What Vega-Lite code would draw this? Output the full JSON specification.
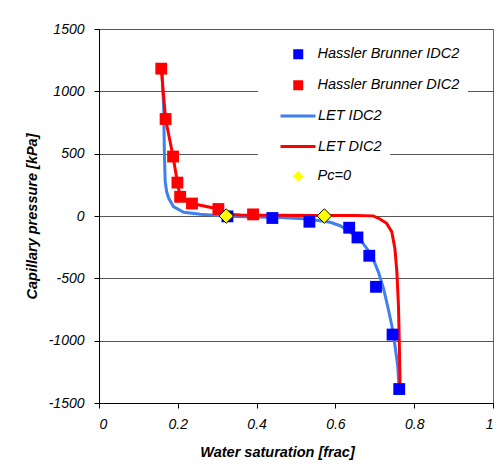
{
  "$schema": "https://vega.github.io/schema/vega-lite/v6.json",
  "width": 394,
  "height": 374,
  "autosize": "none",
  "padding": {"left": 99, "top": 29, "right": 10, "bottom": 63},
  "background": "white",
  "config": {
    "font": "Liberation Sans",
    "view": {"stroke": "#666666", "strokeWidth": 1},
    "legend": {
      "labelFont": "Liberation Sans",
      "labelFontStyle": "italic",
      "labelFontSize": 14.5,
      "labelColor": "black",
      "labelLimit": 400,
      "orient": "none",
      "padding": 8
    }
  },
  "data": {
    "values": [
      {"series": "LET IDC2", "i": 1, "sw": 0.160, "pc": 1180},
      {"series": "LET IDC2", "i": 2, "sw": 0.162, "pc": 1000},
      {"series": "LET IDC2", "i": 3, "sw": 0.164, "pc": 893},
      {"series": "LET IDC2", "i": 4, "sw": 0.166, "pc": 490},
      {"series": "LET IDC2", "i": 5, "sw": 0.168, "pc": 276},
      {"series": "LET IDC2", "i": 6, "sw": 0.172, "pc": 190},
      {"series": "LET IDC2", "i": 7, "sw": 0.177, "pc": 142},
      {"series": "LET IDC2", "i": 8, "sw": 0.189, "pc": 75},
      {"series": "LET IDC2", "i": 9, "sw": 0.215, "pc": 30},
      {"series": "LET IDC2", "i": 10, "sw": 0.257, "pc": 14},
      {"series": "LET IDC2", "i": 11, "sw": 0.299, "pc": 5},
      {"series": "LET IDC2", "i": 12, "sw": 0.323, "pc": -2},
      {"series": "LET IDC2", "i": 13, "sw": 0.400, "pc": -8},
      {"series": "LET IDC2", "i": 14, "sw": 0.460, "pc": -12},
      {"series": "LET IDC2", "i": 15, "sw": 0.530, "pc": -25},
      {"series": "LET IDC2", "i": 16, "sw": 0.587, "pc": -50},
      {"series": "LET IDC2", "i": 17, "sw": 0.612, "pc": -78},
      {"series": "LET IDC2", "i": 18, "sw": 0.637, "pc": -126},
      {"series": "LET IDC2", "i": 19, "sw": 0.667, "pc": -206},
      {"series": "LET IDC2", "i": 20, "sw": 0.692, "pc": -314},
      {"series": "LET IDC2", "i": 21, "sw": 0.709, "pc": -448},
      {"series": "LET IDC2", "i": 22, "sw": 0.722, "pc": -581},
      {"series": "LET IDC2", "i": 23, "sw": 0.734, "pc": -742},
      {"series": "LET IDC2", "i": 24, "sw": 0.743, "pc": -876},
      {"series": "LET IDC2", "i": 25, "sw": 0.751, "pc": -1037},
      {"series": "LET IDC2", "i": 26, "sw": 0.758, "pc": -1198},
      {"series": "LET IDC2", "i": 27, "sw": 0.762, "pc": -1390},

      {"series": "LET DIC2", "i": 1, "sw": 0.158, "pc": 1182},
      {"series": "LET DIC2", "i": 2, "sw": 0.169, "pc": 778},
      {"series": "LET DIC2", "i": 3, "sw": 0.188, "pc": 477},
      {"series": "LET DIC2", "i": 4, "sw": 0.199, "pc": 268},
      {"series": "LET DIC2", "i": 5, "sw": 0.206, "pc": 154},
      {"series": "LET DIC2", "i": 6, "sw": 0.236, "pc": 100},
      {"series": "LET DIC2", "i": 7, "sw": 0.303, "pc": 56},
      {"series": "LET DIC2", "i": 8, "sw": 0.323, "pc": 14},
      {"series": "LET DIC2", "i": 9, "sw": 0.360, "pc": 9},
      {"series": "LET DIC2", "i": 10, "sw": 0.450, "pc": 7},
      {"series": "LET DIC2", "i": 11, "sw": 0.550, "pc": 5},
      {"series": "LET DIC2", "i": 12, "sw": 0.650, "pc": 4},
      {"series": "LET DIC2", "i": 13, "sw": 0.696, "pc": 1},
      {"series": "LET DIC2", "i": 14, "sw": 0.713, "pc": -24},
      {"series": "LET DIC2", "i": 15, "sw": 0.730, "pc": -59},
      {"series": "LET DIC2", "i": 16, "sw": 0.743, "pc": -126},
      {"series": "LET DIC2", "i": 17, "sw": 0.751, "pc": -260},
      {"series": "LET DIC2", "i": 18, "sw": 0.756, "pc": -448},
      {"series": "LET DIC2", "i": 19, "sw": 0.760, "pc": -716},
      {"series": "LET DIC2", "i": 20, "sw": 0.762, "pc": -983},
      {"series": "LET DIC2", "i": 21, "sw": 0.764, "pc": -1359},
      {"series": "LET DIC2", "i": 22, "sw": 0.765, "pc": -1400},

      {"series": "Hassler Brunner IDC2", "i": 1, "sw": 0.326, "pc": -3},
      {"series": "Hassler Brunner IDC2", "i": 2, "sw": 0.440, "pc": -16},
      {"series": "Hassler Brunner IDC2", "i": 3, "sw": 0.534, "pc": -46},
      {"series": "Hassler Brunner IDC2", "i": 4, "sw": 0.635, "pc": -94},
      {"series": "Hassler Brunner IDC2", "i": 5, "sw": 0.656, "pc": -172},
      {"series": "Hassler Brunner IDC2", "i": 6, "sw": 0.686, "pc": -319},
      {"series": "Hassler Brunner IDC2", "i": 7, "sw": 0.703, "pc": -568},
      {"series": "Hassler Brunner IDC2", "i": 8, "sw": 0.745, "pc": -951},
      {"series": "Hassler Brunner IDC2", "i": 9, "sw": 0.762, "pc": -1388},

      {"series": "Hassler Brunner DIC2", "i": 1, "sw": 0.158, "pc": 1182},
      {"series": "Hassler Brunner DIC2", "i": 2, "sw": 0.169, "pc": 778},
      {"series": "Hassler Brunner DIC2", "i": 3, "sw": 0.188, "pc": 477},
      {"series": "Hassler Brunner DIC2", "i": 4, "sw": 0.199, "pc": 268},
      {"series": "Hassler Brunner DIC2", "i": 5, "sw": 0.206, "pc": 154},
      {"series": "Hassler Brunner DIC2", "i": 6, "sw": 0.236, "pc": 100},
      {"series": "Hassler Brunner DIC2", "i": 7, "sw": 0.303, "pc": 56},
      {"series": "Hassler Brunner DIC2", "i": 8, "sw": 0.391, "pc": 13},

      {"series": "Pc=0", "i": 1, "sw": 0.323, "pc": 0},
      {"series": "Pc=0", "i": 2, "sw": 0.572, "pc": 0}
    ]
  },
  "encoding": {
    "x": {
      "field": "sw", "type": "quantitative",
      "scale": {"domain": [0, 1], "nice": false, "zero": false},
      "axis": {
        "title": "Water saturation [frac]",
        "values": [0, 0.2, 0.4, 0.6, 0.8, 1],
        "labelExpr": "'' + datum.value",
        "grid": false,
        "domainColor": "black", "tickColor": "black", "tickSize": 5,
        "labelFont": "Liberation Sans", "labelFontStyle": "italic", "labelFontSize": 14, "labelColor": "black",
        "labelPadding": 9,
        "titleFont": "Liberation Sans", "titleFontStyle": "italic", "titleFontWeight": "bold", "titleFontSize": 14.5, "titleColor": "black",
        "titleX": 178, "titleY": 49, "titleBaseline": "middle", "titleAlign": "center"
      }
    },
    "y": {
      "field": "pc", "type": "quantitative",
      "scale": {"domain": [-1500, 1500], "nice": false, "zero": false},
      "axis": {
        "title": "Capillary pressure [kPa]",
        "values": [-1500, -1000, -500, 0, 500, 1000, 1500],
        "labelExpr": "'' + datum.value",
        "grid": true, "gridColor": "#555555", "gridWidth": 1,
        "domainColor": "black", "tickColor": "black", "tickSize": 5,
        "labelFont": "Liberation Sans", "labelFontStyle": "italic", "labelFontSize": 14, "labelColor": "black",
        "labelPadding": 10,
        "titleFont": "Liberation Sans", "titleFontStyle": "italic", "titleFontWeight": "bold", "titleFontSize": 14.5, "titleColor": "black",
        "titleX": -67, "titleY": 187, "titleBaseline": "middle", "titleAlign": "center", "titleAngle": 270
      }
    }
  },
  "layer": [
    {
      "transform": [{"filter": "datum.series == 'LET IDC2' || datum.series == 'LET DIC2'"}],
      "mark": {"type": "line", "strokeWidth": 3, "opacity": 1},
      "encoding": {
        "order": {"field": "i", "type": "quantitative"},
        "stroke": {
          "field": "series", "type": "nominal",
          "scale": {"domain": ["LET IDC2", "LET DIC2"], "range": ["#3f7ff0", "#ff0000"]},
          "legend": {
            "title": null,
            "legendX": 159, "legendY": 60,
            "fillColor": "white",
            "symbolType": "stroke",
            "symbolSize": 1225,
            "symbolStrokeWidth": 3,
            "symbolOffset": 13,
            "labelOffset": 1,
            "rowPadding": 4.5,
            "labelExpr": "datum.label + '\u00a0\u00a0\u00a0\u00a0\u00a0\u00a0\u00a0\u00a0\u00a0\u00a0\u00a0\u00a0\u00a0\u00a0\u00a0\u00a0\u00a0\u00a0\u00a0\u00a0\u00a0\u00a0\u00a0'"
          }
        }
      }
    },
    {
      "transform": [{"filter": "datum.series == 'Hassler Brunner IDC2' || datum.series == 'Hassler Brunner DIC2'"}],
      "mark": {"type": "point", "shape": "square", "filled": true, "size": 140, "opacity": 1},
      "encoding": {
        "fill": {
          "field": "series", "type": "nominal",
          "scale": {"domain": ["Hassler Brunner IDC2", "Hassler Brunner DIC2"], "range": ["#0000ff", "#ff0000"]},
          "legend": {
            "title": null,
            "legendX": 159, "legendY": 10,
            "fillColor": "white",
            "symbolType": "square",
            "symbolSize": 100,
            "symbolOffset": 25,
            "labelOffset": 12,
            "rowPadding": 16,
            "symbolOpacity": 1,
            "labelExpr": "datum.label + '\u00a0\u00a0\u00a0'"
          }
        }
      }
    },
    {
      "transform": [{"filter": "datum.series == 'Pc=0'"}],
      "mark": {"type": "point", "shape": "diamond", "filled": true, "size": 210, "opacity": 1, "fill": "#ffff00", "stroke": "black", "strokeWidth": 1},
      "encoding": {
        "shape": {
          "field": "series", "type": "nominal",
          "scale": {"domain": ["Pc=0"], "range": ["diamond"]},
          "legend": {
            "title": null,
            "legendX": 159, "legendY": 132,
            "symbolSize": 120,
            "symbolFillColor": "#ffff00",
            "symbolStrokeColor": "black",
            "symbolStrokeWidth": 1,
            "symbolOpacity": 1,
            "symbolOffset": 25,
            "labelOffset": 12
          }
        }
      }
    }
  ]
}
